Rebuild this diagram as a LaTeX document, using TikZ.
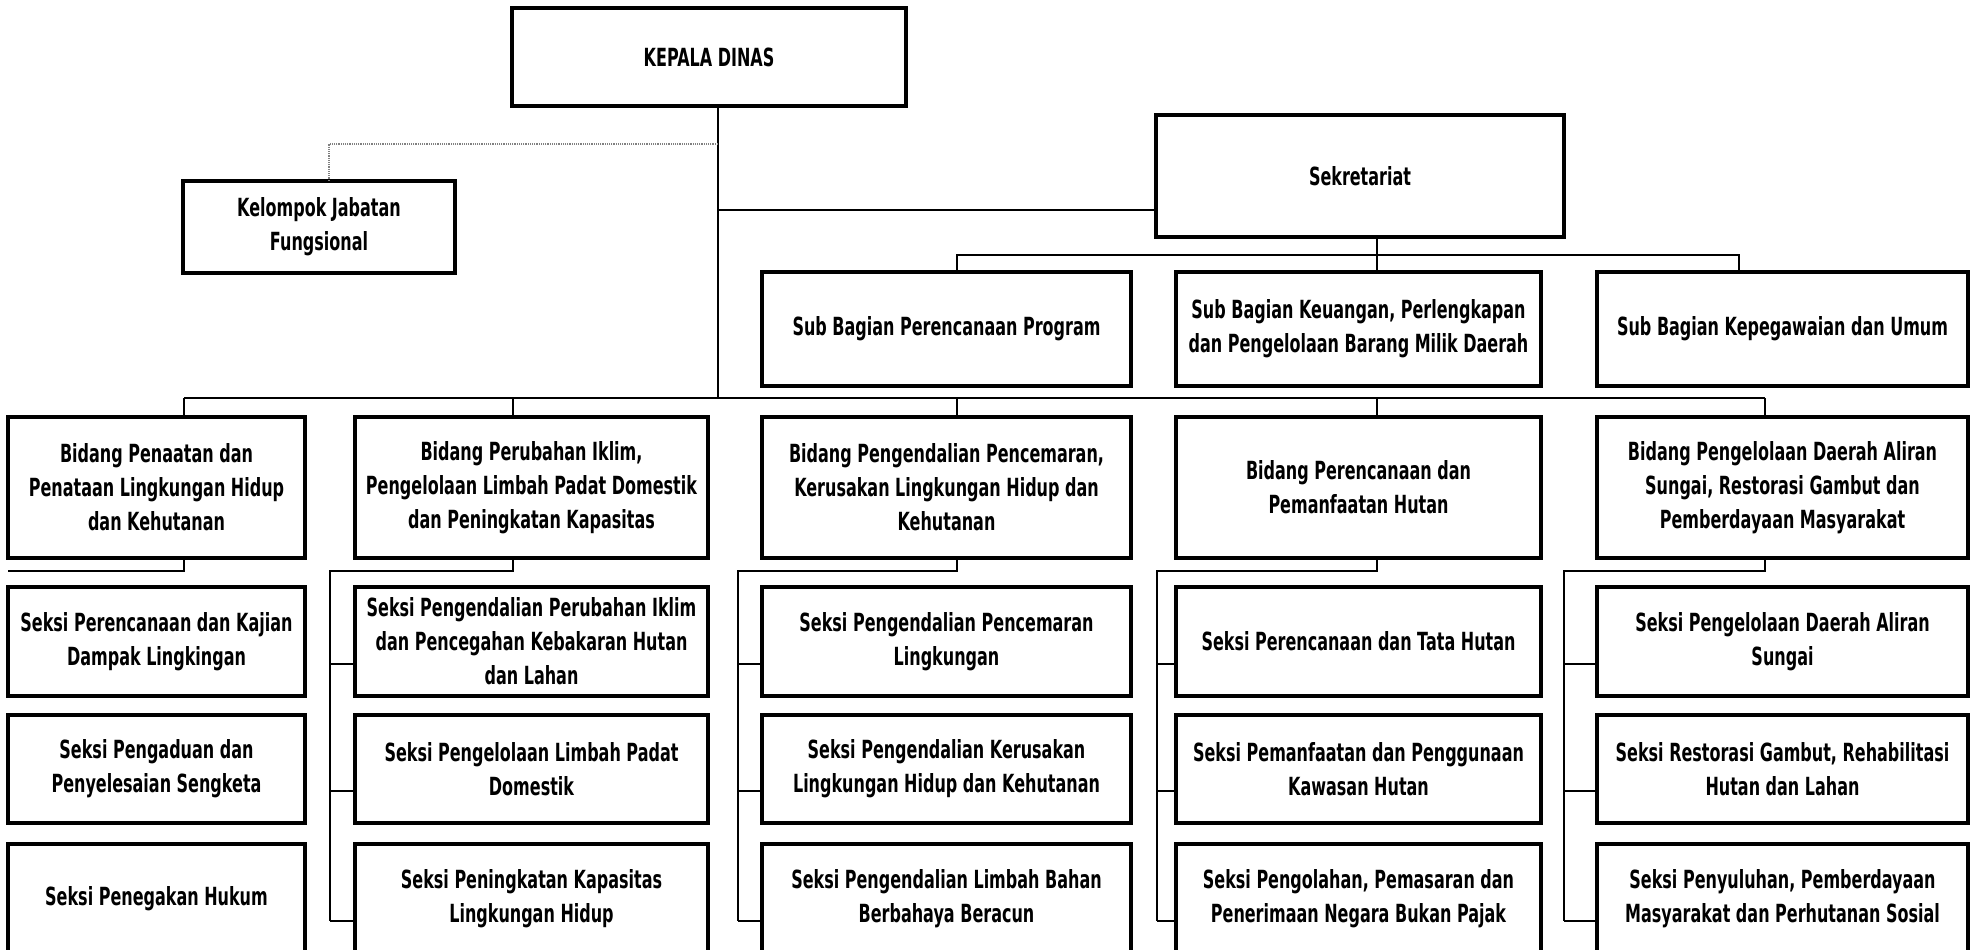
\documentclass[tikz,border=0pt]{standalone}
\usepackage{fontspec}
\newfontfamily\orgfont{DejaVu Sans}[FakeStretch=0.64]
\begin{document}
\begin{tikzpicture}[x=1pt,y=-1pt,
  box/.style={draw=black, line width=3.5pt, inner sep=0pt, outer sep=0pt, align=center,
    fill=white, font=\orgfont\bfseries\fontsize{25}{34}\selectfont},
  conn/.style={line width=2pt, draw=black},
  dotline/.style={line width=1.2pt, draw=gray, densely dotted}]
\useasboundingbox (0,0) rectangle (1976,950);
\clip (0,0) rectangle (1976,950);
\newcommand\bx[6]{%
  \pgfmathsetmacro\bxW{#4-#2}\pgfmathsetmacro\bxH{#5-#3}%
  \pgfmathsetmacro\bxX{(#2+#4)/2}\pgfmathsetmacro\bxY{(#3+#5)/2}%
  \node[box, minimum width=\bxW pt, minimum height=\bxH pt] (#1) at (\bxX,\bxY) {#6};}

% top level
\bx{kd}{512}{8}{906}{106}{KEPALA DINAS}
\bx{kj}{183}{181}{455}{273}{Kelompok Jabatan\\Fungsional}
\bx{sek}{1156}{115}{1564}{237}{Sekretariat}
\bx{sub1}{762}{272}{1131}{386}{Sub Bagian Perencanaan Program}
\bx{sub2}{1176}{272}{1541}{386}{Sub Bagian Keuangan, Perlengkapan\\dan Pengelolaan Barang Milik Daerah}
\bx{sub3}{1597}{272}{1968}{386}{Sub Bagian Kepegawaian dan Umum}

% bidang
\bx{b1}{8}{417}{305}{558}{Bidang Penaatan dan\\Penataan Lingkungan Hidup\\dan Kehutanan}
\bx{b2}{355}{417}{708}{558}{Bidang Perubahan Iklim,\\Pengelolaan Limbah Padat Domestik\\dan Peningkatan Kapasitas}
\bx{b3}{762}{417}{1131}{558}{Bidang Pengendalian Pencemaran,\\Kerusakan Lingkungan Hidup dan\\Kehutanan}
\bx{b4}{1176}{417}{1541}{558}{Bidang Perencanaan dan\\Pemanfaatan Hutan}
\bx{b5}{1597}{417}{1968}{558}{Bidang Pengelolaan Daerah Aliran\\Sungai, Restorasi Gambut dan\\Pemberdayaan Masyarakat}

% seksi column 1
\bx{s11}{8}{587}{305}{696}{Seksi Perencanaan dan Kajian\\Dampak Lingkingan}
\bx{s12}{8}{715}{305}{823}{Seksi Pengaduan dan\\Penyelesaian Sengketa}
\bx{s13}{8}{844}{305}{953}{Seksi Penegakan Hukum}
% column 2
\bx{s21}{355}{587}{708}{696}{Seksi Pengendalian Perubahan Iklim\\dan Pencegahan Kebakaran Hutan\\dan Lahan}
\bx{s22}{355}{715}{708}{823}{Seksi Pengelolaan Limbah Padat\\Domestik}
\bx{s23}{355}{844}{708}{953}{Seksi Peningkatan Kapasitas\\Lingkungan Hidup}
% column 3
\bx{s31}{762}{587}{1131}{696}{Seksi Pengendalian Pencemaran\\Lingkungan}
\bx{s32}{762}{715}{1131}{823}{Seksi Pengendalian Kerusakan\\Lingkungan Hidup dan Kehutanan}
\bx{s33}{762}{844}{1131}{953}{Seksi Pengendalian Limbah Bahan\\Berbahaya Beracun}
% column 4
\bx{s41}{1176}{587}{1541}{696}{Seksi Perencanaan dan Tata Hutan}
\bx{s42}{1176}{715}{1541}{823}{Seksi Pemanfaatan dan Penggunaan\\Kawasan Hutan}
\bx{s43}{1176}{844}{1541}{953}{Seksi Pengolahan, Pemasaran dan\\Penerimaan Negara Bukan Pajak}
% column 5
\bx{s51}{1597}{587}{1968}{696}{Seksi Pengelolaan Daerah Aliran\\Sungai}
\bx{s52}{1597}{715}{1968}{823}{Seksi Restorasi Gambut, Rehabilitasi\\Hutan dan Lahan}
\bx{s53}{1597}{844}{1968}{953}{Seksi Penyuluhan, Pemberdayaan\\Masyarakat dan Perhutanan Sosial}

% junction coordinates
\coordinate (bb) at (718,398);
\coordinate (dj) at (329,144);
\coordinate (sj) at (718,210);
\coordinate (sb) at (1377,255);
\coordinate (sbL) at (957,255);
\coordinate (sbR) at (1739,255);
\coordinate (t1) at (184,398);
\coordinate (t2) at (513,398);
\coordinate (t3) at (957,398);
\coordinate (t4) at (1377,398);
\coordinate (t5) at (1765,398);
\coordinate (u1) at (8,571);
\coordinate (u2) at (330,571);
\coordinate (u3) at (738,571);
\coordinate (u4) at (1157,571);
\coordinate (u5) at (1564,571);

% kepala dinas trunk
\draw[conn] (kd.south -| bb) -- (bb);
\draw[dotline] (dj -| bb) -- (dj) -- (dj |- kj.north);
\draw[conn] (sj) -- (sj -| sek.west);

% sekretariat to sub bagian
\draw[conn] (sek.south -| sb) -- (sub2.north -| sb);
\draw[conn] (sub1.north -| sbL) -- (sbL) -- (sbR) -- (sub3.north -| sbR);

% bidang bus
\draw[conn] (t1) -- (t5);
\foreach \i in {1,...,5} {
  \draw[conn] (t\i) -- (b\i.north -| t\i);
}

% bidang to seksi
\draw[conn] (b1.south -| t1) |- (u1);
\foreach \i in {2,...,5} {
  \coordinate (k\i) at ([yshift=-22pt]s\i3.west);
  \draw[conn] (b\i.south -| t\i) |- (u\i) -- (u\i |- k\i);
  \foreach \j in {1,2,3} {
    \draw[conn] ([yshift=-22pt]s\i\j.west) -- ([yshift=-22pt]s\i\j.west -| u\i);
  }
}
\end{tikzpicture}
\end{document}
